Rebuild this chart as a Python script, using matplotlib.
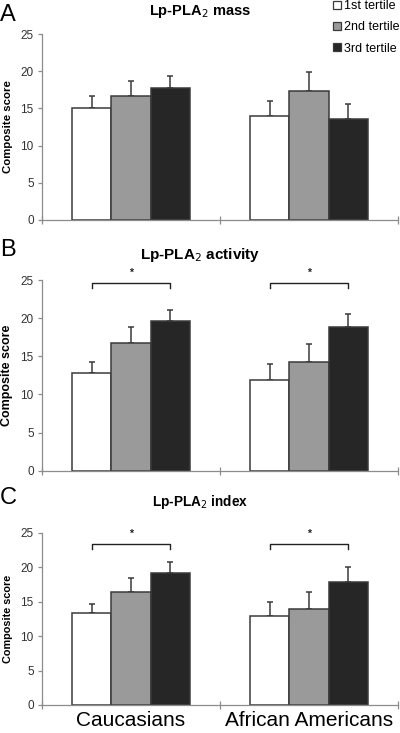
import numpy as np
import matplotlib
matplotlib.use('Agg')
import matplotlib.pyplot as plt
from matplotlib.patches import Patch

plt.rcParams['font.family'] = ['Liberation Sans', 'DejaVu Sans']

groups = ['Caucasians', 'African Americans']
tertiles = ['1st tertile', '2nd tertile', '3rd tertile']
panel_letters = ['A', 'B', 'C']
panel_titles = ['Lp-PLA$_2$ mass', 'Lp-PLA$_2$ activity', 'Lp-PLA$_2$ index']

# means per panel: [group][tertile]
mass_mean = [[15.0, 16.7, 17.7], [14.0, 17.4, 13.6]]
mass_err = [[1.6, 2.0, 1.6], [2.0, 2.5, 2.0]]
activity_mean = [[12.8, 16.8, 19.6], [11.9, 14.3, 18.8]]
activity_err = [[1.4, 2.1, 1.5], [2.1, 2.35, 1.8]]
index_mean = [[13.35, 16.4, 19.2], [12.9, 13.9, 17.9]]
index_err = [[1.3, 2.0, 1.6], [2.0, 2.45, 2.1]]

# significance brackets (1st vs 3rd tertile) per panel, None = no bracket
bracket_y = [None, 24.6, 23.3]
star_y = [None, 25.9, 24.8]

yticks = [0, 5, 10, 15, 20, 25]

colors = ['white', '#9a9a9a', '#262626']
edge = '#3a3a3a'
axis_grey = '#8c8c8c'

means = [mass_mean, activity_mean, index_mean]
errs = [mass_err, activity_err, index_err]

fig = plt.figure(figsize=(4.0, 7.33), dpi=100)

# axes boxes in figure fractions: left, bottom, width, height
boxes = [
    (0.105, 0.700, 0.890, 0.2536),
    (0.105, 0.3578, 0.890, 0.2602),
    (0.105, 0.0382, 0.890, 0.2351),
]
title_y = [0.984, 0.652, 0.315]
title_size = [10.5, 11, 9.8]
ylabel_size = [8.2, 9.0, 7.8]
letter_y = [0.980, 0.659, 0.320]

width = 0.22
offsets = np.array([-1, 0, 1]) * width
x = np.arange(len(groups))

for p in range(3):
    ax = fig.add_axes(boxes[p])
    m = np.array(means[p])
    e = np.array(errs[p])
    for t in range(3):
        xs = x + offsets[t]
        ax.bar(xs, m[:, t], width=width, color=colors[t], edgecolor=edge,
               linewidth=1.1, zorder=2)
        ax.errorbar(xs, m[:, t], yerr=[np.zeros(2), e[:, t]], fmt='none',
                    ecolor=edge, elinewidth=1.1, capsize=2.5, capthick=1.1,
                    zorder=1)

    if bracket_y[p] is not None:
        for g in range(2):
            x0 = x[g] + offsets[0]
            x1 = x[g] + offsets[2]
            by = bracket_y[p]
            ax.plot([x0, x0, x1, x1], [by - 0.6, by, by, by - 0.6],
                    color='#222222', lw=1.0, clip_on=False)
            ax.text((x0 + x1) / 2, star_y[p], '*', ha='center', va='center',
                    fontsize=7.5, fontweight='bold', color='#222222')

    ax.set_xlim(-0.5, 1.5)
    ax.set_ylim(0, 25)
    ax.set_yticks(yticks)
    ax.set_xticks([-0.5, 0.5, 1.5])
    ax.set_xticklabels([])
    ax.tick_params(axis='x', direction='inout', length=6, color=axis_grey,
                   width=0.9)
    ax.tick_params(axis='y', direction='out', length=3, color=axis_grey,
                   width=0.9, labelsize=8.5, labelcolor='#333333', pad=3)
    ax.spines[['top', 'right']].set_visible(False)
    ax.spines['left'].set_color(axis_grey)
    ax.spines['bottom'].set_color(axis_grey)
    ax.spines['left'].set_linewidth(0.9)
    ax.spines['bottom'].set_linewidth(0.9)
    ax.set_ylabel('Composite score', fontsize=ylabel_size[p],
                  fontweight='bold', labelpad=5)

    fig.text(0.5, title_y[p], panel_titles[p], ha='center', va='center',
             fontsize=title_size[p], fontweight='bold')
    fig.text(0.0, letter_y[p], panel_letters[p], ha='left', va='center',
             fontsize=17)

    if p == 2:
        for g in range(2):
            fig.text(0.105 + 0.890 * (x[g] + 0.5) / 2.0, 0.009, groups[g],
                     ha='center', va='baseline', fontsize=15)

handles = [Patch(facecolor=colors[t], edgecolor=edge, linewidth=0.9)
           for t in range(3)]
fig.legend(handles, tertiles, loc='upper left', bbox_to_anchor=(0.833, 1.0),
           frameon=False, fontsize=9, handlelength=0.6, handleheight=0.6,
           handletextpad=0.3, labelspacing=0.75, borderaxespad=0.0,
           borderpad=0.0)

fig.savefig('out.png', dpi=100)
